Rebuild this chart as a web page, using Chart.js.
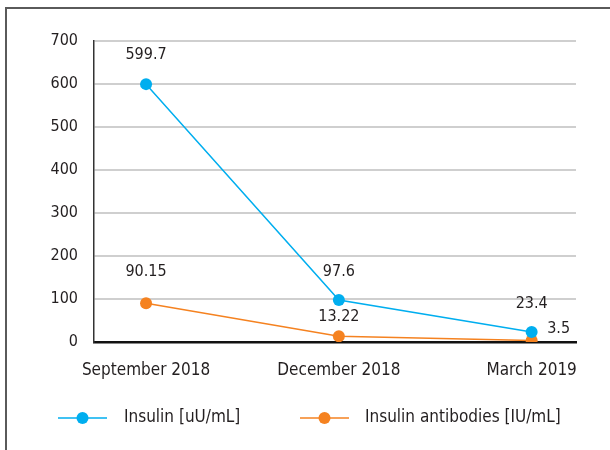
<!DOCTYPE html>
<html>
<head>
<meta charset="utf-8">
<script src="https://cdn.jsdelivr.net/npm/chart.js@4"></script>
<style>
  html,body{margin:0;padding:0;background:#fff;overflow:hidden;}
  #wrap{position:relative;width:610px;height:450px;overflow:hidden;}
  #frame{position:absolute;left:5px;top:7px;width:605px;height:443px;border-left:2px solid #5a5a5a;border-top:2px solid #5a5a5a;box-sizing:border-box;}
  canvas{position:absolute;left:0;top:0;}
</style>
</head>
<body>
<div id="wrap">
  <div id="frame"></div>
  <canvas id="c" width="610" height="450"></canvas>
</div>
<script>
const categories = ["September 2018", "December 2018", "March 2019"];
const insulin = [599.7, 97.6, 23.4];
const antibodies = [90.15, 13.22, 3.5];
const insulinLabels = ["599.7", "97.6", "23.4"];
const antibodyLabels = ["90.15", "13.22", "3.5"];
const yTicks = [0, 100, 200, 300, 400, 500, 600, 700];
const seriesNames = ["Insulin [uU/mL]", "Insulin antibodies [IU/mL]"];

const FONT = "'Liberation Sans Narrow','DejaVu Sans Condensed','Roboto',sans-serif";
const TXT = "#231F20";
const BLUE = "#00AEEF";
const ORANGE = "#F58220";

const labelOffsets = [
  [[0,-29],[0,-28],[0,-28]],
  [[0,-31],[0,-19],[27,-12]]
];
const labelTexts = [insulinLabels, antibodyLabels];

const valueLabels = {
  id:'valueLabels',
  afterDatasetsDraw(chart){
    const ctx = chart.ctx;
    ctx.save();
    ctx.font = "16px " + FONT;
    ctx.fillStyle = TXT;
    ctx.textAlign = 'center';
    ctx.textBaseline = 'middle';
    chart.data.datasets.forEach((ds, di) => {
      chart.getDatasetMeta(di).data.forEach((pt, i) => {
        const o = labelOffsets[di][i];
        ctx.fillText(labelTexts[di][i], pt.x + o[0], pt.y + o[1]);
      });
    });
    ctx.restore();
  }
};

const legendPos = [{x:58, text:124}, {x:300, text:365}];
const customLegend = {
  id:'customLegend',
  afterDraw(chart){
    const ctx = chart.ctx;
    const y = 418;
    ctx.save();
    chart.data.datasets.forEach((ds, di) => {
      const p = legendPos[di];
      ctx.strokeStyle = ds.borderColor;
      ctx.lineWidth = 1.5;
      ctx.beginPath();
      ctx.moveTo(p.x, y);
      ctx.lineTo(p.x + 49, y);
      ctx.stroke();
      ctx.fillStyle = ds.backgroundColor;
      ctx.beginPath();
      ctx.arc(p.x + 24.5, y, 6, 0, Math.PI*2);
      ctx.fill();
      ctx.font = "17px " + FONT;
      ctx.fillStyle = TXT;
      ctx.textAlign = 'left';
      ctx.textBaseline = 'middle';
      ctx.fillText(ds.label, p.text, y);
    });
    ctx.restore();
  }
};

new Chart(document.getElementById('c'), {
  type: 'line',
  data: {
    datasets: [
      {
        label: seriesNames[0],
        data: insulin.map((v, i) => ({x: i, y: v})),
        borderColor: BLUE,
        backgroundColor: BLUE,
        borderWidth: 1.5,
        pointRadius: 6,
        pointHoverRadius: 6,
        pointBorderWidth: 0,
        tension: 0
      },
      {
        label: seriesNames[1],
        data: antibodies.map((v, i) => ({x: i, y: v})),
        borderColor: ORANGE,
        backgroundColor: ORANGE,
        borderWidth: 1.5,
        pointRadius: 6,
        pointHoverRadius: 6,
        pointBorderWidth: 0,
        tension: 0
      }
    ]
  },
  options: {
    responsive: false,
    animation: false,
    events: [],
    layout: {padding: {left: 0, right: 34, top: 41, bottom: 48}},
    plugins: {legend: {display: false}, tooltip: {enabled: false}},
    scales: {
      x: {
        type: 'linear',
        min: -0.27,
        max: 2.23,
        afterBuildTicks(scale){ scale.ticks = categories.map((c, i) => ({value: i})); },
        afterFit(scale){ scale.height = 60; },
        grid: {display: false, drawTicks: false},
        border: {display: true, color: '#111', width: 2.5},
        ticks: {
          callback: (v) => categories[v],
          font: {family: FONT, size: 17},
          color: TXT,
          padding: 18,
          maxRotation: 0,
          autoSkip: false
        }
      },
      y: {
        min: 0,
        max: 700,
        afterBuildTicks(scale){ scale.ticks = yTicks.map(v => ({value: v})); },
        afterFit(scale){ scale.width = 94; },
        grid: {color: '#CFCFCF', lineWidth: 2, drawTicks: false},
        border: {display: true, color: '#333', width: 1.5},
        ticks: {
          font: {family: FONT, size: 16},
          color: TXT,
          padding: 16
        }
      }
    }
  },
  plugins: [valueLabels, customLegend]
});
</script>
</body>
</html>
